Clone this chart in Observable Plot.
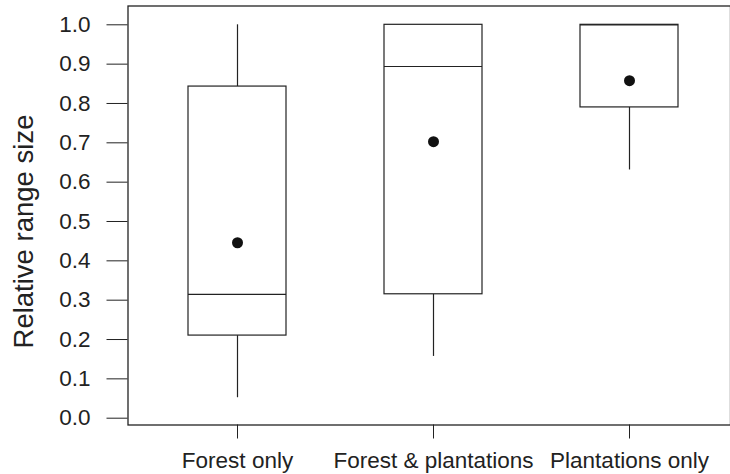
<!DOCTYPE html>
<html><head><meta charset="utf-8">
<script src="https://cdn.jsdelivr.net/npm/d3@7"></script>
<script src="https://cdn.jsdelivr.net/npm/@observablehq/plot@0.6"></script>
<style>html,body{margin:0;padding:0;background:#fff;overflow:hidden} svg{display:block}</style>
</head><body><div id="chart"></div>
<script>
const categories = ["Forest only", "Forest & plantations", "Plantations only"];
const whiskerLow  = [0.052, 0.157, 0.631];
const lowerQuart  = [0.210, 0.315, 0.790];
const medians     = [0.315, 0.894, 1.000];
const upperQuart  = [0.843, 1.000, 1.000];
const whiskerHigh = [1.000, 1.000, 1.000];
const means       = [0.446, 0.703, 0.858];
const yTicks = [0, 0.1, 0.2, 0.3, 0.4, 0.5, 0.6, 0.7, 0.8, 0.9, 1.0];
const yTitle = "Relative range size";

const data = categories.map((c, i) => ({
  cat: c, lo: whiskerLow[i], q1: lowerQuart[i], med: medians[i],
  q3: upperQuart[i], hi: whiskerHigh[i], mean: means[i]
}));

const yDomain = [-0.0173, 1.0478];
const ink = "#222";

const chart = Plot.plot({
  width: 730, height: 474,
  marginLeft: 127.5, marginRight: 0, marginTop: 5.5, marginBottom: 49.5,
  style: {fontFamily: "'Liberation Sans', Arial, sans-serif", fontSize: "22.5px", color: ink, background: "#fff"},
  x: {type: "band", domain: categories, paddingInner: 0.5, paddingOuter: 0.2815, align: 0.54,
      label: null, tickSize: 14, tickPadding: 13.5},
  y: {domain: yDomain, ticks: yTicks, tickFormat: d3.format(".1f"), tickSize: 21, tickPadding: 16.5,
      label: null},
  marks: [
    Plot.frame({stroke: ink, strokeWidth: 1.3}),
    Plot.ruleX(data, {x: "cat", y1: "lo", y2: "q1", stroke: ink, strokeWidth: 1.2}),
    Plot.ruleX(data.filter(d => d.hi > d.q3), {x: "cat", y1: "q3", y2: "hi", stroke: ink, strokeWidth: 1.2}),
    Plot.barY(data, {x: "cat", y1: "q1", y2: "q3", fill: "white", stroke: ink, strokeWidth: 1.2}),
    Plot.tickY(data, {x: "cat", y: "med", stroke: ink, strokeWidth: 1.2}),
    Plot.dot(data, {x: "cat", y: "mean", r: 5.5, fill: "#111", stroke: null}),
    Plot.text([yTitle], {frameAnchor: "left", text: d => d, rotate: -90, textAnchor: "middle",
      dx: -104, dy: 16, fontSize: 27.5, fill: ink})
  ]
});
document.getElementById("chart").appendChild(chart);
</script>
</body></html>
